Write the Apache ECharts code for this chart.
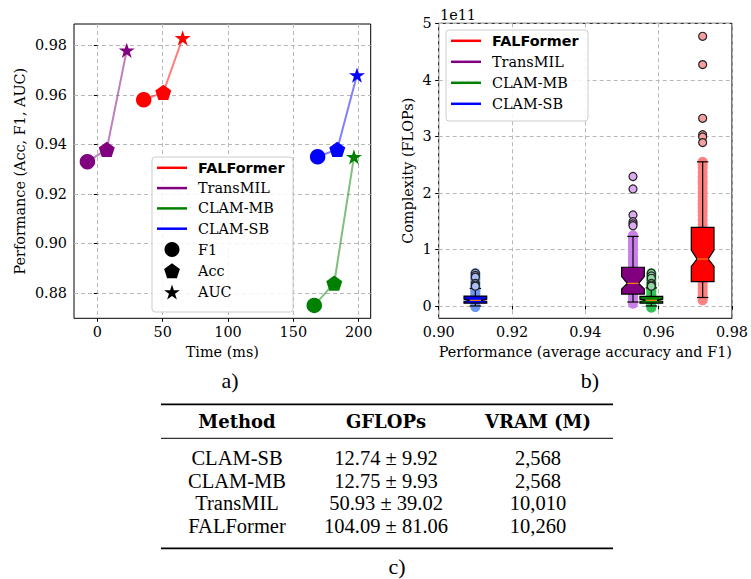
<!DOCTYPE html>
<html>
<head>
<meta charset="utf-8">
<script src="https://cdn.jsdelivr.net/npm/echarts@6/dist/echarts.min.js"></script>
<style>html,body{margin:0;padding:0;background:#fff}#c{width:751px;height:579px}</style>
</head>
<body>
<div id="c"></div>
<script>
// ---------- data: panel a) ----------
const models = ['FALFormer', 'TransMIL', 'CLAM-MB', 'CLAM-SB'];
const f1Time = [35.5, -7.6, 166.0, 168.6];
const f1Score = [0.958, 0.933, 0.875, 0.935];
const accTime = [50.5, 7.2, 181.3, 183.6];
const accScore = [0.961, 0.938, 0.884, 0.938];
const aucTime = [65.3, 22.5, 196.4, 198.7];
const aucScore = [0.983, 0.978, 0.935, 0.968];
const timeTicks = [0, 50, 100, 150, 200];
const perfTicks = [0.88, 0.90, 0.92, 0.94, 0.96, 0.98];

// ---------- data: panel b) (FLOPs in units of 1e11) ----------
const boxPerf = [0.972, 0.953, 0.958, 0.910];
const boxWhiskerLow = [0.15, 0.07, 0.00, 0.00];
const boxQ1 = [0.43, 0.21, 0.05, 0.05];
const boxNotchLow = [0.70, 0.30, 0.085, 0.085];
const boxMedian = [0.83, 0.40, 0.10, 0.10];
const boxNotchHigh = [0.99, 0.52, 0.12, 0.12];
const boxQ3 = [1.39, 0.685, 0.17, 0.175];
const boxWhiskerHigh = [2.55, 1.23, 0.32, 0.31];
const fliersFALFormer = [4.77, 4.27, 3.32, 3.03, 2.99, 2.89];
const fliersTransMIL = [2.29, 2.07, 1.61, 1.49, 1.45, 1.42];
const fliersCLAMMB = [0.58, 0.53, 0.49, 0.40, 0.37, 0.35];
const fliersCLAMSB = [0.58, 0.54, 0.51, 0.40, 0.37, 0.35];
const samplesFALFormer = [0.10, 0.14, 0.19, 0.25, 0.31, 0.36, 0.42, 0.47, 0.53, 0.58, 0.64, 0.71, 0.77, 0.84, 0.90, 0.97, 1.03, 1.10, 1.16, 1.23, 1.31, 1.38, 1.44, 1.52, 1.60, 1.67, 1.74, 1.80, 1.86, 1.93, 2.01, 2.09, 2.16, 2.21, 2.28, 2.36, 2.44, 2.50, 2.55];
const samplesTransMIL = [0.04, 0.08, 0.13, 0.18, 0.24, 0.29, 0.35, 0.41, 0.46, 0.52, 0.58, 0.63, 0.69, 0.75, 0.81, 0.86, 0.92, 0.98, 1.04, 1.10, 1.16, 1.21, 1.25];
const samplesCLAMMB = [-0.03, 0.01, 0.05, 0.09, 0.13, 0.17, 0.21, 0.25, 0.29, 0.33, 0.37, 0.41, 0.46, 0.50, 0.54, 0.58];
const samplesCLAMSB = [-0.02, 0.02, 0.06, 0.10, 0.14, 0.18, 0.22, 0.26, 0.30, 0.34, 0.38, 0.42, 0.47, 0.51, 0.55, 0.58];
const flopTicks = [0, 1, 2, 3, 4, 5];
const perfTicksB = [0.90, 0.92, 0.94, 0.96, 0.98];

// ---------- data: table c) ----------
const tableHeader = ['Method', 'GFLOPs', 'VRAM (M)'];
const tableMethod = ['CLAM-SB', 'CLAM-MB', 'TransMIL', 'FALFormer'];
const tableGflops = ['12.74 ± 9.92', '12.75 ± 9.93', '50.93 ± 39.02', '104.09 ± 81.06'];
const tableVram = ['2,568', '2,568', '10,010', '10,260'];

// ---------- styles ----------
const serif = 'DejaVu Serif';
const FS = 14.4;
const colors = ['#ff0000', '#800080', '#008000', '#0000ff'];
const lineColors = ['rgba(255,0,0,0.5)', 'rgba(128,0,128,0.5)', 'rgba(0,128,0,0.5)', 'rgba(0,0,255,0.5)'];
const bandColors = ['#ff8080', '#c880e8', '#33c455', '#6f96f0'];
const flierColors = ['#f4a0a0', '#dcaaf0', '#8fd9a0', '#a9bff5'];
const fliers = [fliersFALFormer, fliersTransMIL, fliersCLAMMB, fliersCLAMSB];
const samples = [samplesFALFormer, samplesTransMIL, samplesCLAMMB, samplesCLAMSB];
const pentagon = 'path://M10,0 L19.51,6.91 L15.88,18.09 L4.12,18.09 L0.49,6.91 Z';
const star = 'path://M10,0 L12.245,6.91 L19.511,6.91 L13.633,11.18 L15.878,18.09 L10,13.82 L4.122,18.09 L6.367,11.18 L0.489,6.91 L7.755,6.91 Z';
const lineIcon = 'path://M0,0 H30 V2.5 H0 Z';
const gridLine = {show: true, lineStyle: {color: '#b8b8b8', width: 1, type: [4, 3]}};
const tickStyle = {show: true, length: 3.5, inside: false, lineStyle: {color: '#000', width: 1}};
const labelStyle = {color: '#000', fontFamily: serif, fontSize: FS};

const chart = echarts.init(document.getElementById('c'), null, {renderer: 'svg', width: 751, height: 579});

const series = [];
models.forEach((m, i) => {
  series.push({
    type: 'line', name: m, xAxisIndex: 0, yAxisIndex: 0, z: 2, silent: true,
    symbol: 'none', showSymbol: false,
    lineStyle: {color: lineColors[i], width: 2},
    itemStyle: {color: colors[i]},
    data: [[f1Time[i], f1Score[i]], [accTime[i], accScore[i]], [aucTime[i], aucScore[i]]]
  });
});
series.push({
  type: 'scatter', name: 'F1', xAxisIndex: 0, yAxisIndex: 0, z: 3, symbol: 'circle', symbolSize: 15.5,
  data: models.map((m, i) => ({value: [f1Time[i], f1Score[i]], itemStyle: {color: colors[i], opacity: 1}}))
});
series.push({
  type: 'scatter', name: 'Acc', xAxisIndex: 0, yAxisIndex: 0, z: 3, symbol: pentagon, symbolKeepAspect: true, symbolSize: 16,
  data: models.map((m, i) => ({value: [accTime[i], accScore[i]], itemStyle: {color: colors[i], opacity: 1}}))
});
series.push({
  type: 'scatter', name: 'AUC', xAxisIndex: 0, yAxisIndex: 0, z: 3, symbol: star, symbolKeepAspect: true, symbolSize: 16,
  data: models.map((m, i) => ({value: [aucTime[i], aucScore[i]], itemStyle: {color: colors[i], opacity: 1}}))
});

const boxHalf = 0.0031;
function renderBox(params, api) {
  const x = api.value(0), wl = api.value(1), q1 = api.value(2), nlo = api.value(3), med = api.value(4),
        nhi = api.value(5), q3 = api.value(6), wh = api.value(7);
  const c = api.visual('color');
  const P = (dx, y) => api.coord([x + dx, y]);
  const w = boxHalf;
  const poly = [P(-w, q1), P(-w, nlo), P(-w / 2, med), P(-w, nhi), P(-w, q3), P(w, q3), P(w, nhi), P(w / 2, med), P(w, nlo), P(w, q1)];
  const ln = (a, b, col, lw) => ({type: 'line', shape: {x1: a[0], y1: a[1], x2: b[0], y2: b[1]}, style: {stroke: col, lineWidth: lw}});
  return {
    type: 'group',
    children: [
      ln(P(0, wl), P(0, q1), '#000', 1.2),
      ln(P(0, q3), P(0, wh), '#000', 1.2),
      ln(P(-w / 2, wl), P(w / 2, wl), '#000', 1.2),
      ln(P(-w / 2, wh), P(w / 2, wh), '#000', 1.2),
      {type: 'polygon', shape: {points: poly}, style: {fill: c, stroke: '#000', lineWidth: 1.2}},
      ln(P(-w / 2, med), P(w / 2, med), '#ff7f0e', 1.2)
    ]
  };
}
models.forEach((m, i) => {
  series.push({
    type: 'scatter', name: m + ' samples', xAxisIndex: 1, yAxisIndex: 1, z: 2, symbolSize: 10, silent: true,
    itemStyle: {color: bandColors[i], opacity: 1},
    data: samples[i].map(v => [boxPerf[i], v])
  });
});
models.forEach((m, i) => {
  series.push({
    type: 'custom', name: m, xAxisIndex: 1, yAxisIndex: 1, z: 3, silent: true,
    itemStyle: {color: colors[i]},
    encode: {x: 0, y: [1, 2, 3, 4, 5, 6, 7]},
    renderItem: renderBox,
    data: [[boxPerf[i], boxWhiskerLow[i], boxQ1[i], boxNotchLow[i], boxMedian[i], boxNotchHigh[i], boxQ3[i], boxWhiskerHigh[i]]]
  });
});
models.forEach((m, i) => {
  series.push({
    type: 'scatter', name: m + ' outliers', xAxisIndex: 1, yAxisIndex: 1, z: 4, symbolSize: 8, silent: true,
    itemStyle: {color: flierColors[i], borderColor: '#222', borderWidth: 1.2, opacity: 1},
    data: fliers[i].map(v => [boxPerf[i], v])
  });
});

const legendText = {color: '#000', fontFamily: serif, fontSize: FS, padding: [0, 0, 0, 6]};
const lineLegendItems = models.map((m, i) => {
  const it = {name: m, icon: lineIcon, itemStyle: {color: colors[i], opacity: 1, borderWidth: 0, borderColor: 'transparent'}};
  if (i === 0) it.textStyle = {fontFamily: 'DejaVu Sans', fontWeight: 'bold'};
  return it;
});

const graphic = [
  {type: 'rect', z: 50, shape: {x: 152, y: 157, width: 141, height: 155, r: 3}, style: {fill: 'rgba(255,255,255,0.85)', stroke: '#cccccc', lineWidth: 1}},
  {type: 'rect', z: 50, shape: {x: 446, y: 30, width: 142, height: 91, r: 3}, style: {fill: 'rgba(255,255,255,0.85)', stroke: '#cccccc', lineWidth: 1}},
  {type: 'text', z: 50, x: 440, y: 15, style: {text: '1e11', font: FS + 'px "DejaVu Serif"', fill: '#000', textAlign: 'left', textVerticalAlign: 'middle'}},
  {type: 'text', z: 50, x: 230, y: 380, style: {text: 'a)', font: '22px "Liberation Serif"', fill: '#000', textAlign: 'center', textVerticalAlign: 'middle'}},
  {type: 'text', z: 50, x: 590, y: 380, style: {text: 'b)', font: '22px "Liberation Serif"', fill: '#000', textAlign: 'center', textVerticalAlign: 'middle'}},
  {type: 'text', z: 50, x: 397, y: 566, style: {text: 'c)', font: '22px "Liberation Serif"', fill: '#000', textAlign: 'center', textVerticalAlign: 'middle'}},
  {type: 'line', z: 50, shape: {x1: 161, y1: 404.3, x2: 613, y2: 404.3}, style: {stroke: '#000', lineWidth: 1.8}},
  {type: 'line', z: 50, shape: {x1: 161, y1: 438.3, x2: 613, y2: 438.3}, style: {stroke: '#000', lineWidth: 1}},
  {type: 'line', z: 50, shape: {x1: 161, y1: 548.3, x2: 613, y2: 548.3}, style: {stroke: '#000', lineWidth: 1.8}}
];
const colX = [237, 386, 538];
const rowY = [458.3, 481, 503.3, 525.6];
tableHeader.forEach((h, j) => {
  graphic.push({type: 'text', z: 50, x: colX[j], y: 421, style: {text: h, font: 'bold 18px "DejaVu Serif"', fill: '#000', textAlign: 'center', textVerticalAlign: 'middle'}});
});
[tableMethod, tableGflops, tableVram].forEach((col, j) => {
  col.forEach((t, k) => {
    graphic.push({type: 'text', z: 50, x: colX[j], y: rowY[k], style: {text: t, font: '20.5px "Liberation Serif"', fill: '#000', textAlign: 'center', textVerticalAlign: 'middle'}});
  });
});

const option = {
  animation: false,
  backgroundColor: '#ffffff',
  grid: [
    {left: 74, top: 24, width: 296.7, height: 294.3, show: true, borderColor: '#000', borderWidth: 1, backgroundColor: 'transparent'},
    {left: 438.7, top: 23.3, width: 298, height: 295, show: true, borderColor: '#000', borderWidth: 1, backgroundColor: 'transparent'}
  ],
  xAxis: [
    {type: 'value', gridIndex: 0, min: -17.86, max: 209.2,
     name: 'Time (ms)', nameLocation: 'middle', nameGap: 27, nameTextStyle: labelStyle,
     axisLine: {show: false}, axisTick: Object.assign({customValues: timeTicks}, tickStyle),
     axisLabel: Object.assign({customValues: timeTicks, margin: 7, formatter: v => String(Math.round(v))}, labelStyle),
     splitLine: gridLine},
    {type: 'value', gridIndex: 1, min: 0.90, max: 0.98,
     name: 'Performance (average accuracy and F1)', nameLocation: 'middle', nameGap: 27, nameTextStyle: labelStyle,
     axisLine: {show: false}, axisTick: Object.assign({customValues: perfTicksB}, tickStyle),
     axisLabel: Object.assign({customValues: perfTicksB, margin: 7, formatter: v => v.toFixed(2), showMinLabel: true, showMaxLabel: true}, labelStyle),
     splitLine: gridLine}
  ],
  yAxis: [
    {type: 'value', gridIndex: 0, min: 0.86979, max: 0.98861,
     name: 'Performance (Acc, F1, AUC)', nameLocation: 'middle', nameGap: 47, nameTextStyle: labelStyle,
     axisLine: {show: false}, axisTick: Object.assign({customValues: perfTicks}, tickStyle),
     axisLabel: Object.assign({customValues: perfTicks, margin: 7, formatter: v => v.toFixed(2)}, labelStyle),
     splitLine: gridLine},
    {type: 'value', gridIndex: 1, min: -0.218, max: 5,
     name: 'Complexity (FLOPs)', nameLocation: 'middle', nameGap: 24, nameTextStyle: labelStyle,
     axisLine: {show: false}, axisTick: Object.assign({customValues: flopTicks}, tickStyle),
     axisLabel: Object.assign({customValues: flopTicks, margin: 7, formatter: v => String(Math.round(v)), showMaxLabel: true}, labelStyle),
     splitLine: gridLine}
  ],
  legend: [
    {orient: 'vertical', left: 157, top: 160.8, itemWidth: 30, itemHeight: 15, itemGap: 6.3, z: 60,
     selectedMode: false, textStyle: legendText, padding: 0,
     data: lineLegendItems.concat([
       {name: 'F1', icon: 'circle', itemStyle: {color: '#000', opacity: 1, borderWidth: 0}},
       {name: 'Acc', icon: pentagon, itemStyle: {color: '#000', opacity: 1, borderWidth: 0}},
       {name: 'AUC', icon: star, itemStyle: {color: '#000', opacity: 1, borderWidth: 0}}
     ])},
    {orient: 'vertical', left: 451, top: 33.8, itemWidth: 30, itemHeight: 15, itemGap: 7, z: 60,
     selectedMode: false, textStyle: legendText, padding: 0,
     data: lineLegendItems}
  ],
  graphic: graphic,
  series: series
};
chart.setOption(option);
</script>
</body>
</html>
